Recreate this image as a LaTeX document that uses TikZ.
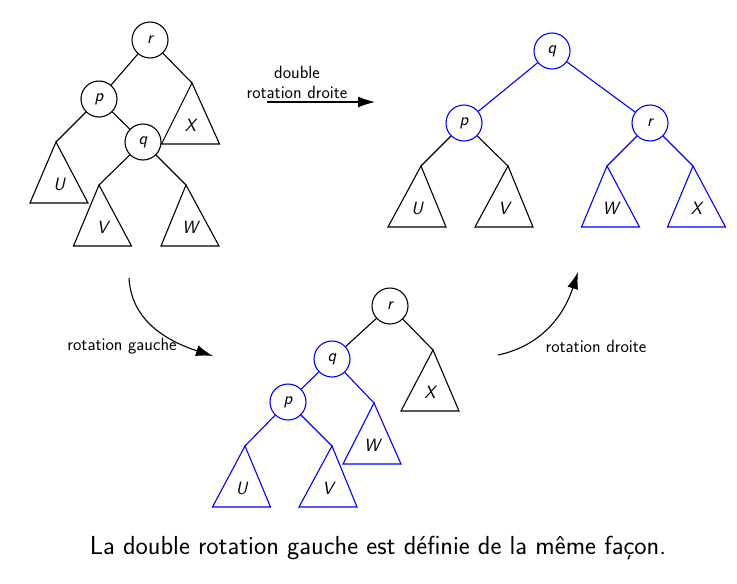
\documentclass[tikz,border=0pt]{standalone}
\usepackage{fontspec}
\usetikzlibrary{arrows.meta}
\tikzset{
  lw/.style={line width=1.1pt},
  nd/.style={circle,draw,lw,minimum size=36pt,inner sep=0pt,text=black,
    font=\sffamily\slshape\fontsize{17.8}{21}\selectfont},
  lab/.style={text=black,inner sep=0pt,font=\sffamily\slshape\fontsize{17.8}{21}\selectfont},
  txt/.style={inner sep=0pt,align=center,font=\sffamily\fontsize{17.8}{20}\selectfont},
  edge/.style={lw},
  arr/.style={lw,-{Latex[length=17pt,width=11pt]}},
  sub/.pic={
    \coordinate (-apex) at (0,0);
    \draw[lw,line join=miter] (-apex) -- ({-29-(#1)},61) -- ({29-(#1)},61) -- cycle;
    \node[lab] (-lab) at ({-(#1)},42) {\tikzpictext};
  }
}
\begin{document}
\begin{tikzpicture}[x=1pt,y=-1pt]
\useasboundingbox (0,0) rectangle (737,584);

% ---------- tree 1 (top left) ----------
\node[nd] (r1) at (150,40) {r};
\node[nd] (p1) at (99,99) {p};
\node[nd] (q1) at (143,142) {q};
\pic[pic text=X] (X1) at (192,83) {sub=1.5};
\pic[pic text=U] (U1) at (56,142) {sub=-3};
\pic[pic text=V] (V1) at (99,185) {sub=-3.5};
\pic[pic text=W] (W1) at (186,185) {sub=-4};
\draw[edge] (r1) -- (p1);
\draw[edge] (r1) -- (X1-apex);
\draw[edge] (p1) -- (U1-apex);
\draw[edge] (p1) -- (q1);
\draw[edge] (q1) -- (V1-apex);
\draw[edge] (q1) -- (W1-apex);

% ---------- tree 2 (top right) ----------
\node[nd,draw=blue] (q2) at (552,51) {q};
\node[nd,draw=blue] (p2) at (464,123) {p};
\node[nd,draw=blue] (r2) at (650,123) {r};
\pic[pic text=U] (U2) at (421,166) {sub=4};
\pic[pic text=V] (V2) at (508,166) {sub=4};
\pic[blue,pic text=W] (W2) at (607,166) {sub=-3.5};
\pic[blue,pic text=X] (X2) at (693,166) {sub=-3.5};
\draw[edge,blue] (q2) -- (p2);
\draw[edge,blue] (q2) -- (r2);
\draw[edge] (p2) -- (U2-apex);
\draw[edge] (p2) -- (V2-apex);
\draw[edge,blue] (r2) -- (W2-apex);
\draw[edge,blue] (r2) -- (X2-apex);

% ---------- tree 3 (bottom) ----------
\node[nd] (r3) at (390,306) {r};
\node[nd,draw=blue] (q3) at (332,359) {q};
\node[nd,draw=blue] (p3) at (288,402) {p};
\pic[pic text=X] (X3) at (433,350) {sub=3};
\pic[blue,pic text=W] (W3) at (374,403) {sub=2};
\pic[blue,pic text=U] (U3) at (245,446) {sub=3.5};
\pic[blue,pic text=V] (V3) at (332,446) {sub=4};
\draw[edge] (r3) -- (q3);
\draw[edge] (r3) -- (X3-apex);
\draw[edge,blue] (q3) -- (p3);
\draw[edge,blue] (q3) -- (W3-apex);
\draw[edge,blue] (p3) -- (U3-apex);
\draw[edge,blue] (p3) -- (V3-apex);

% ---------- arrows ----------
\coordinate (a1s) at (267,102);
\coordinate (a1e) at (375,102);
\draw[arr] (a1s) -- (a1e);
\node[txt] (l1) at (297,82) {double\\rotation droite};

\coordinate (a2s) at (129,278);
\coordinate (a2e) at (213,356);
\draw[arr] (a2s) to[out=-87,in=162] (a2e);
\node[txt] (l2) at (122,346) {rotation gauche};

\coordinate (a3s) at (498,355);
\coordinate (a3e) at (578,272);
\draw[arr] (a3s) to[out=12,in=-108] (a3e);
\node[txt] (l3) at (596,346) {rotation droite};

% ---------- caption ----------
\node[inner sep=0pt,font=\sffamily\fontsize{26.1}{31}\selectfont] (cap) at (378,548)
  {La double rotation gauche est définie de la même façon.};
\end{tikzpicture}
\end{document}
